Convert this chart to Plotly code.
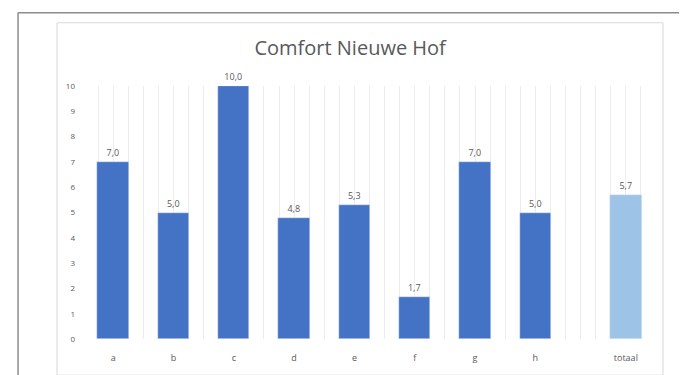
import plotly.graph_objects as go

# ---- data ----
categories = ["a", "b", "c", "d", "e", "f", "g", "h"]
scores = [7.0, 5.0, 10.0, 4.8, 5.3, 1.66, 7.0, 5.0]
total_label = ["totaal"]
total_score = [5.7]
y_ticks = [0, 1, 2, 3, 4, 5, 6, 7, 8, 9, 10]
title_text = "Comfort Nieuwe Hof"

DARK = "#4472C4"
LIGHT = "#9DC3E6"
GREY = "#595959"
FONT = "Open Sans, Liberation Sans, sans-serif"

fig = go.Figure()
fig.add_trace(go.Bar(
    x=categories, y=scores, marker_color=DARK, width=0.52,
    texttemplate="%{y:.1f}", textposition="outside", cliponaxis=False,
    textfont=dict(size=9, color=GREY, family=FONT), showlegend=False,
    xaxis="x", yaxis="y",
))
fig.add_trace(go.Bar(
    x=total_label, y=total_score, marker_color=LIGHT, width=0.52,
    texttemplate="%{y:.1f}", textposition="outside", cliponaxis=False,
    textfont=dict(size=9, color=GREY, family=FONT), showlegend=False,
    xaxis="x2", yaxis="y",
))
# empty trace only to host the vertical grid axis
fig.add_trace(go.Scatter(x=[], y=[], xaxis="x3", yaxis="y", showlegend=False))

# frame shapes (paper coords relative to plot area)
shapes = [
    dict(type="rect", xref="paper", yref="paper", x0=-0.0454, x1=1.0122, y0=-0.143, y1=1.25,
         line=dict(color="#d9d9d9", width=1), fillcolor="rgba(0,0,0,0)", layer="below"),
    dict(type="line", xref="paper", yref="paper", x0=-0.1134, x1=-0.1134, y0=-0.25, y1=1.29,
         line=dict(color="#8c8c8c", width=1.5)),
    dict(type="line", xref="paper", yref="paper", x0=-0.1134, x1=1.058, y0=1.29, y1=1.29,
         line=dict(color="#8c8c8c", width=1.5)),
    dict(type="line", xref="paper", yref="paper", x0=1.058, x1=1.058, y0=-0.25, y1=1.29,
         line=dict(color="#8c8c8c", width=1.5)),
]

fig.update_layout(
    width=687, height=375,
    margin=dict(l=75, r=39, t=78, b=44),
    paper_bgcolor="white", plot_bgcolor="white",
    separators=",.",
    font=dict(family=FONT, color=GREY, size=9),
    title=dict(text=title_text, x=0.498, xref="container", xanchor="center",
               y=1 - 40 / 375, yref="container", yanchor="middle",
               font=dict(size=20, color=GREY, family=FONT)),
    shapes=shapes,
    bargap=0,
    xaxis=dict(type="category", categoryorder="array", categoryarray=categories,
               range=[-0.5, 9.0], showgrid=False, zeroline=False, showline=False,
               ticks="", ticklabelstandoff=12, tickfont=dict(size=9, color=GREY)),
    xaxis2=dict(type="category", overlaying="x", side="bottom", anchor="y",
                range=[-9.0, 0.5], showgrid=False, zeroline=False, showline=False,
                ticks="", ticklabelstandoff=12, tickfont=dict(size=9, color=GREY)),
    xaxis3=dict(type="linear", overlaying="x", side="bottom", anchor="y",
                range=[-0.5, 9.0], tick0=0, dtick=0.25, showgrid=True,
                gridcolor="#ececec", gridwidth=1, showticklabels=False,
                zeroline=False, showline=False, ticks=""),
    yaxis=dict(range=[0, 10], tickvals=y_ticks, showgrid=False, zeroline=False,
               showline=False, ticks="", ticklabelstandoff=7,
               tickfont=dict(size=8, color=GREY)),
)

fig.write_html("out.html")
